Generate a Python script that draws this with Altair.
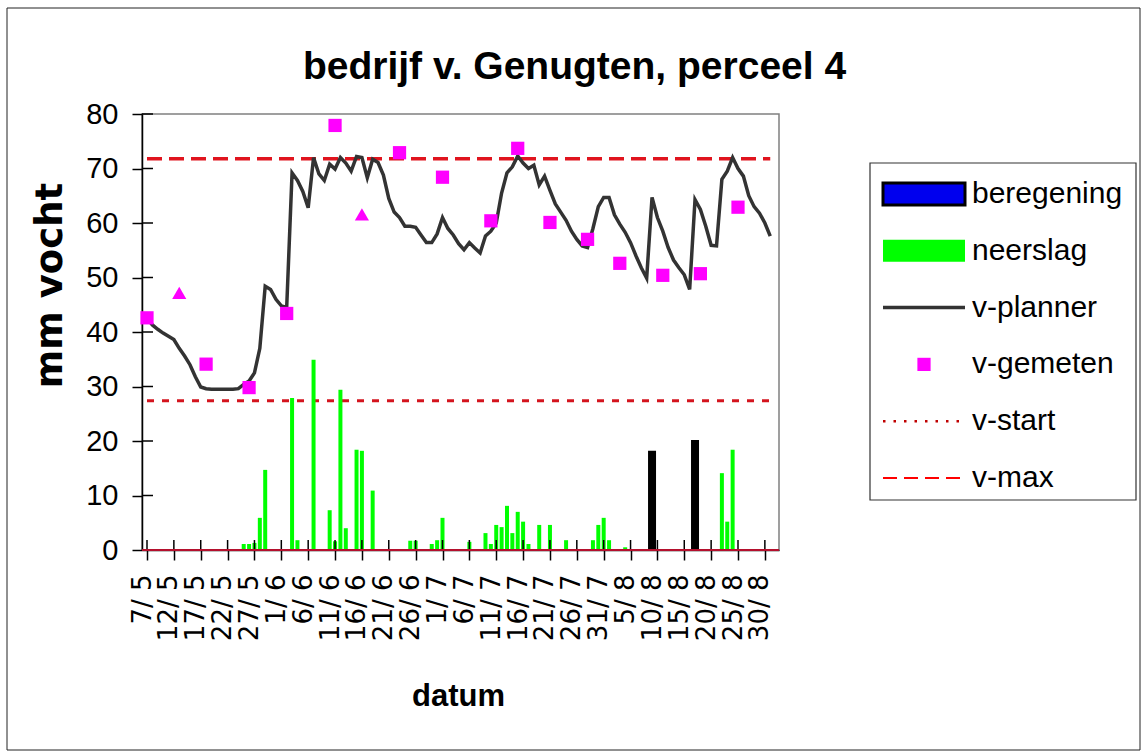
import altair as alt
import pandas as pd

# ---------------- data ----------------
TITLE = "bedrijf v. Genugten, perceel 4"
Y_TITLE = "mm vocht"
X_TITLE = "datum"

# day index 0 = 7 mei; ticks every 5 days
tick_days = list(range(0, 116, 5))
tick_labels = ["7/ 5", "12/ 5", "17/ 5", "22/ 5", "27/ 5", "1/ 6", "6/ 6", "11/ 6",
               "16/ 6", "21/ 6", "26/ 6", "1/ 7", "6/ 7", "11/ 7", "16/ 7", "21/ 7",
               "26/ 7", "31/ 7", "5/ 8", "10/ 8", "15/ 8", "20/ 8", "25/ 8", "30/ 8"]
y_ticks = [0, 10, 20, 30, 40, 50, 60, 70, 80]

# v-planner: daily values from 7/5 (day 0) to 31/8 (day 116)
planner_mm = [
    42.6, 41.3, 40.5, 39.8, 39.2, 38.6, 37.0, 35.6, 34.0, 31.8,
    29.9, 29.6, 29.5, 29.5, 29.5, 29.5, 29.5, 29.6, 30.4, 31.0,
    32.5, 37.0, 48.4, 47.8, 46.0, 44.8, 44.5, 69.2, 67.8, 65.8,
    62.8, 72.0, 69.0, 67.8, 70.8, 69.9, 72.0, 71.0, 69.5, 72.2,
    72.0, 68.3, 71.7, 71.1, 68.8, 64.5, 62.0, 61.0, 59.4, 59.4,
    59.2, 57.8, 56.4, 56.4, 58.0, 61.0, 59.0, 57.8, 56.2, 55.1,
    56.4, 55.4, 54.5, 57.6, 58.5, 60.0, 65.5, 69.2, 70.3, 72.3,
    71.0, 70.0, 70.6, 67.0, 68.6, 66.0, 63.5, 62.0, 60.5, 58.5,
    57.0, 55.8, 55.5, 59.0, 63.0, 64.7, 64.7, 61.5, 59.8, 58.3,
    56.4, 54.0, 51.8, 49.9, 64.7, 61.0, 58.5, 55.5, 53.2, 51.8,
    50.5, 47.8, 64.3, 62.5, 59.4, 55.9, 55.8, 68.0, 69.5, 72.0,
    70.0, 68.6, 65.0, 63.0, 61.8, 60.0, 57.6,
]

neerslag_days = [18, 19, 20, 21, 22, 27, 28, 31, 34, 35, 36, 37, 39, 40, 42, 49, 50,
                 53, 54, 55, 60, 63, 64, 65, 66, 67, 68, 69, 70, 71, 73, 75, 78, 83,
                 84, 85, 86, 89, 107, 108, 109]
neerslag_mm = [1.1, 1.1, 1.3, 5.9, 14.7, 27.9, 1.8, 34.9, 7.3, 1.6, 29.4, 4.0, 18.4,
               18.2, 10.9, 1.7, 1.7, 1.1, 1.8, 5.9, 1.5, 3.1, 1.1, 4.6, 4.2, 8.1, 3.1,
               7.0, 5.2, 1.1, 4.6, 4.6, 1.8, 1.8, 4.6, 5.9, 1.8, 0.5, 14.1, 5.2, 18.4]

beregening_days = [94, 102]
beregening_mm = [18.2, 20.2]

gemeten_days = [0, 6, 11, 19, 26, 35, 40, 47, 55, 64, 69, 75, 82, 88, 96, 103, 110]
gemeten_mm = [42.6, 47.2, 34.1, 29.8, 43.4, 77.9, 61.6, 72.9, 68.4, 60.4, 73.7,
              60.1, 57.0, 52.6, 50.4, 50.7, 62.9]
gemeten_vorm = ["vierkant", "driehoek", "vierkant", "vierkant", "vierkant", "vierkant",
                "driehoek", "vierkant", "vierkant", "vierkant", "vierkant", "vierkant",
                "vierkant", "vierkant", "vierkant", "vierkant", "vierkant"]

v_start = 27.4
v_max = 71.8
first_day, last_day = 0, 116

legend_labels = ["beregening", "neerslag", "v-planner", "v-gemeten", "v-start", "v-max"]

# ---------------- tables ----------------
planner = pd.DataFrame({"dag": list(range(len(planner_mm))), "mm": planner_mm})
neerslag = pd.DataFrame({"dag": neerslag_days, "mm": neerslag_mm})
beregening = pd.DataFrame({"dag": beregening_days, "mm": beregening_mm})
gemeten = pd.DataFrame({"dag": gemeten_days, "mm": gemeten_mm, "vorm": gemeten_vorm})
grenzen = pd.DataFrame({"naam": ["v-start", "v-max"], "mm": [v_start, v_max],
                        "van": [first_day, first_day], "tot": [last_day, last_day]})
xt = pd.DataFrame({"dag": tick_days})
yt = pd.DataFrame({"mm": y_ticks})
nul = pd.DataFrame({"mm": [0]})
legend_df = pd.DataFrame({"label": legend_labels})
one = pd.DataFrame({"k": [1]})

# ---------------- scales & axes ----------------
W, H = 637, 436
x_scale = alt.Scale(domain=[0, 116.7], nice=False, zero=False)
y_scale = alt.Scale(domain=[0, 80], nice=False)

label_expr = "[" + ",".join("'%s'" % s for s in tick_labels) + "][round(datum.value / 5)]"

x_axis = alt.Axis(values=tick_days, labelExpr=label_expr, labelAngle=270,
                  labelFont="DejaVu Sans", labelFontSize=26, labelColor="black",
                  labelPadding=14, labelOffset=-5, labelOverlap=False,
                  tickSize=10, tickColor="black", tickWidth=1.5,
                  domainColor="black", domainWidth=1.5, grid=False,
                  title=X_TITLE, titleFont="Liberation Sans", titleFontSize=31,
                  titleFontWeight="bold", titleColor="black",
                  titleX=316, titleY=146, titleBaseline="middle", titleAlign="center")
y_axis = alt.Axis(values=y_ticks, labelFont="Liberation Sans", labelFontSize=29,
                  labelColor="black", labelPadding=14, tickSize=10, tickColor="black",
                  tickWidth=1.5, domainColor="black", domainWidth=1.5, grid=False,
                  title=Y_TITLE, titleFont="DejaVu Sans", titleFontSize=37,
                  titleFontWeight="bold", titleColor="black", titleAngle=270,
                  titleX=-92, titleY=171, titleAlign="center", titleBaseline="middle")


def X(field):
    return alt.X(field, type="quantitative", scale=x_scale, axis=x_axis)


def Y(field):
    return alt.Y(field, type="quantitative", scale=y_scale, axis=y_axis)


# ---------------- main layers ----------------
thr_start = alt.Chart(grenzen).transform_filter("datum.naam == 'v-start'").mark_rule(
    color="#d4141e", strokeWidth=3, strokeDash=[7, 8]
).encode(x=X("van"), x2="tot", y=Y("mm"))
thr_max = alt.Chart(grenzen).transform_filter("datum.naam == 'v-max'").mark_rule(
    color="#e0141e", strokeWidth=3.5, strokeDash=[15, 7]
).encode(x=X("van"), x2="tot", y=Y("mm"))

bars_rain = alt.Chart(neerslag).mark_bar(color="#00ff00", size=4).encode(x=X("dag"), y=Y("mm"))
bars_irr = alt.Chart(beregening).mark_bar(color="#000000", size=8).encode(x=X("dag"), y=Y("mm"))

zero_line = alt.Chart(nul).mark_rule(color="#b4102d", strokeWidth=2).encode(y=Y("mm"))

line = alt.Chart(planner).mark_line(color="#333333", strokeWidth=3.5).encode(x=X("dag"), y=Y("mm"))

pts_sq = alt.Chart(gemeten).transform_filter("datum.vorm == 'vierkant'").mark_point(
    shape="square", filled=True, size=175, color="#ff00ff", opacity=1
).encode(x=X("dag"), y=Y("mm"))
pts_tri = alt.Chart(gemeten).transform_filter("datum.vorm == 'driehoek'").mark_point(
    shape="triangle-up", filled=True, size=200, color="#ff00ff", opacity=1
).encode(x=X("dag"), y=Y("mm"))

in_ticks_y = alt.Chart(yt).mark_rule(color="black", strokeWidth=1.5).encode(
    y=Y("mm"), x=alt.value(0), x2=alt.value(11))
in_ticks_x = alt.Chart(xt).mark_rule(color="black", strokeWidth=1.5).encode(
    x=X("dag"), y=alt.value(H - 10), y2=alt.value(H))

main = alt.layer(thr_start, thr_max, bars_rain, bars_irr, line, pts_sq, pts_tri,
                 in_ticks_y, in_ticks_x, zero_line)

# ---------------- legend (drawn from legend_labels) ----------------
ly = alt.Y("label:N", scale=alt.Scale(type="point", domain=legend_labels,
                                        range=[80, 364], padding=0), axis=None)
RECT_PATH = "M-1,-0.27L1,-0.27L1,0.27L-1,0.27Z"

frame = alt.Chart(one).mark_rect(fill="white", stroke="#333333", strokeWidth=1.2).encode(
    x=alt.value(728), x2=alt.value(994), y=alt.value(49), y2=alt.value(386))


def leg(name):
    return alt.Chart(legend_df).transform_filter("datum.label == '%s'" % name)


sw_irr = leg("beregening").mark_point(shape=RECT_PATH, size=6724, filled=True,
                                      fill="#0000ee", stroke="black", strokeWidth=3,
                                      opacity=1).encode(x=alt.value(782), y=ly)
sw_rain = leg("neerslag").mark_point(shape=RECT_PATH, size=6724, filled=True,
                                     fill="#00ff00", strokeWidth=0,
                                     opacity=1).encode(x=alt.value(782), y=ly)
sw_line = leg("v-planner").mark_rule(color="#333333", strokeWidth=3.5).encode(
    x=alt.value(741), x2=alt.value(823), y=ly)
sw_pt = leg("v-gemeten").mark_point(shape="square", size=175, filled=True,
                                    color="#ff00ff", opacity=1).encode(x=alt.value(782), y=ly)
sw_start = leg("v-start").mark_rule(color="#c00000", strokeWidth=2.5, strokeDash=[2.5, 8]).encode(
    x=alt.value(741), x2=alt.value(820), y=ly)
sw_max = leg("v-max").mark_rule(color="#ff0000", strokeWidth=2, strokeDash=[14, 7]).encode(
    x=alt.value(741), x2=alt.value(823), y=ly)
leg_text = alt.Chart(legend_df).mark_text(align="left", baseline="middle", fontSize=30,
                                          font="Liberation Sans", color="black").encode(
    x=alt.value(830), y=ly, text="label:N")

outer = alt.Chart(one).mark_rect(fill="transparent", stroke="#222222", strokeWidth=1).encode(
    x=alt.value(-135), x2=alt.value(998), y=alt.value(-106), y2=alt.value(636))

legend = alt.layer(outer, frame, sw_irr, sw_rain, sw_line, sw_pt, sw_start, sw_max, leg_text)

chart = alt.layer(main, legend).resolve_scale(y="independent").properties(
    width=W, height=H,
    autosize=alt.AutoSizeParams(type="none"),
    padding={"left": 142, "top": 114, "right": 1142 - 142 - W, "bottom": 754 - 114 - H},
    title=alt.TitleParams(TITLE, font="Liberation Sans", fontSize=39, fontWeight="bold",
                          color="black", anchor="middle", frame="group", dx=114,
                          offset=-118, baseline="bottom"),
).configure_view(stroke="#808080", strokeWidth=1.5)

chart.save("out.html", embed_options={"renderer": "svg", "actions": False})
